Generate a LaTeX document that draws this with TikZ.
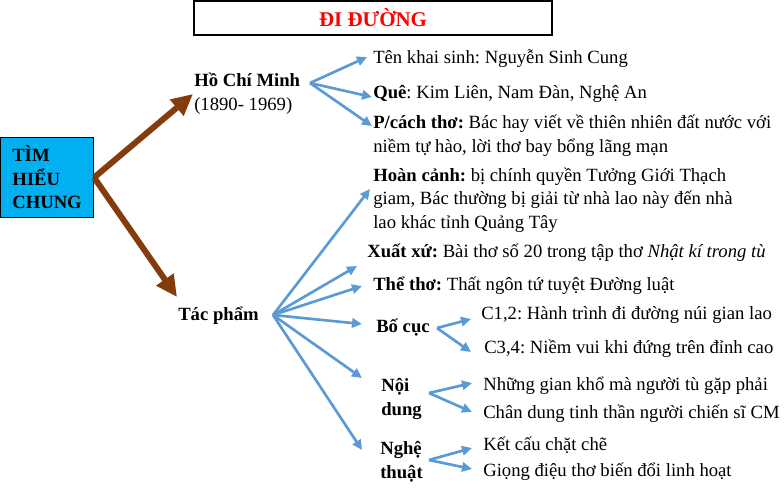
\documentclass[tikz,border=0pt]{standalone}
\usepackage{fontspec}
\setmainfont{Liberation Serif}
\usetikzlibrary{arrows.meta,positioning,calc}
\frenchspacing

\definecolor{boxcyan}{HTML}{00B0F0}
\definecolor{arrbrown}{HTML}{843C0C}
\definecolor{arrblue}{HTML}{5B9BD5}

\tikzset{
  txt/.style={anchor=base west, inner sep=0pt, align=left,
    font=\fontsize{14}{17.5}\selectfont},
  bold/.style={font=\fontsize{14}{17.5}\selectfont\bfseries},
  bluearr/.style={draw=arrblue, line width=2pt, -{Triangle[length=7.5pt,width=7pt]}},
  brownarr/.style={draw=arrbrown, line width=4.5pt, -{Triangle[length=16pt,width=15pt]}}
}

\begin{document}
\begin{tikzpicture}[x=0.75pt,y=-0.75pt]
\useasboundingbox (0,0) rectangle (784,487);

% Title
\node[draw, line width=1pt, minimum width=268.5pt, minimum height=25.5pt, inner sep=0pt,
  text=red, font=\fontsize{15.7}{17}\selectfont\bfseries] (title) at (373,18) {ĐI ĐƯỜNG};

% Main box
\node[draw, fill=boxcyan, line width=0.8pt, anchor=north west, minimum width=69.75pt,
  minimum height=60pt, align=left, font=\fontsize{14}{17.6}\selectfont\bfseries] (tim) at (0,137) {TÌM\\HIỂU\\CHUNG};

% Author (base = last line)
\node[txt] (hcm) at (194,110) {\textbf{Hồ Chí Minh}\\(1890- 1969)};
\coordinate (hcmout) at (310,83);

\node[txt] (tenks) at (373,63) {Tên khai sinh: Nguyễn Sinh Cung};
\node[txt] (que) at (373,98) {\textbf{Quê}: Kim Liên, Nam Đàn, Nghệ An};
\node[txt] (pcach) at (373,152) {\textbf{P/cách thơ:} Bác hay viết về thiên nhiên đất nước với\\niềm tự hào, lời thơ bay bổng lãng mạn};

% Work
\node[txt, bold] (tacpham) at (178,320) {Tác phẩm};
\coordinate (tpout) at (273,315);

\node[txt] (hoancanh) at (373,228) {\textbf{Hoàn cảnh:} bị chính quyền Tưởng Giới Thạch\\giam, Bác thường bị giải từ nhà lao này đến nhà\\lao khác tỉnh Quảng Tây};
\node[txt] (xuatxu) at (367,257) {\textbf{Xuất xứ:} Bài thơ số 20 trong tập thơ \textit{Nhật kí trong tù}};
\node[txt] (thetho) at (373,290) {\textbf{Thể thơ:} Thất ngôn tứ tuyệt Đường luật};

\node[txt, bold] (bocuc) at (376,332) {Bố cục};
\coordinate (bcout) at (437,328);
\node[txt] (c12) at (481,319) {C1,2: Hành trình đi đường núi gian lao};
\node[txt] (c34) at (484,353) {C3,4: Niềm vui khi đứng trên đỉnh cao};

\node[txt, bold] (noidung) at (381,415) {Nội\\dung};
\coordinate (ndout) at (429,393);
\node[txt] (giankho) at (483,390) {Những gian khổ mà người tù gặp phải};
\node[txt] (chandung) at (483,418) {Chân dung tinh thần người chiến sĩ CM};

\node[txt, bold] (nghethuat) at (380,478) {Nghệ\\thuật};
\coordinate (ntout) at (429,460);
\node[txt] (ketcau) at (483,450) {Kết cấu chặt chẽ};
\node[txt] (giongdieu) at (483,476) {Giọng điệu thơ biến đổi linh hoạt};

% Brown arrows
\draw[brownarr] (tim.east) -- ($(hcm.base west)+(-1,-16)$);
\draw[brownarr] (tim.east) -- ($(tacpham.base west)+(-1,-23)$);

% Blue arrows
\draw[bluearr] (hcmout) -- ($(tenks.base west)+(-6,-6)$);
\draw[bluearr] (hcmout) -- ($(que.base west)+(-1,-1)$);
\draw[bluearr] (hcmout) -- ($(pcach.base west)+(-1,-26)$);

\draw[bluearr] (tpout) -- ($(hoancanh.base west)+(-3,-39)$);
\draw[bluearr] (tpout) -- ($(xuatxu.base west)+(-10,9)$);
\draw[bluearr] (tpout) -- ($(thetho.base west)+(-11,-4)$);
\draw[bluearr] (tpout) -- ($(bocuc.base west)+(-14,-8)$);
\draw[bluearr] (tpout) -- ($(noidung.base west)+(-19,-37)$);
\draw[bluearr] (tpout) -- ($(nghethuat.base west)+(-18,-28)$);

\draw[bluearr] (bcout) -- ($(c12.base west)+(-10,0)$);
\draw[bluearr] (bcout) -- ($(c34.base west)+(-13,-1)$);
\draw[bluearr] (ndout) -- ($(giankho.base west)+(-11,-7)$);
\draw[bluearr] (ndout) -- ($(chandung.base west)+(-11,-6)$);
\draw[bluearr] (ntout) -- ($(ketcau.base west)+(-11,-2)$);
\draw[bluearr] (ntout) -- ($(giongdieu.base west)+(-11,-7)$);
\end{tikzpicture}
\end{document}
